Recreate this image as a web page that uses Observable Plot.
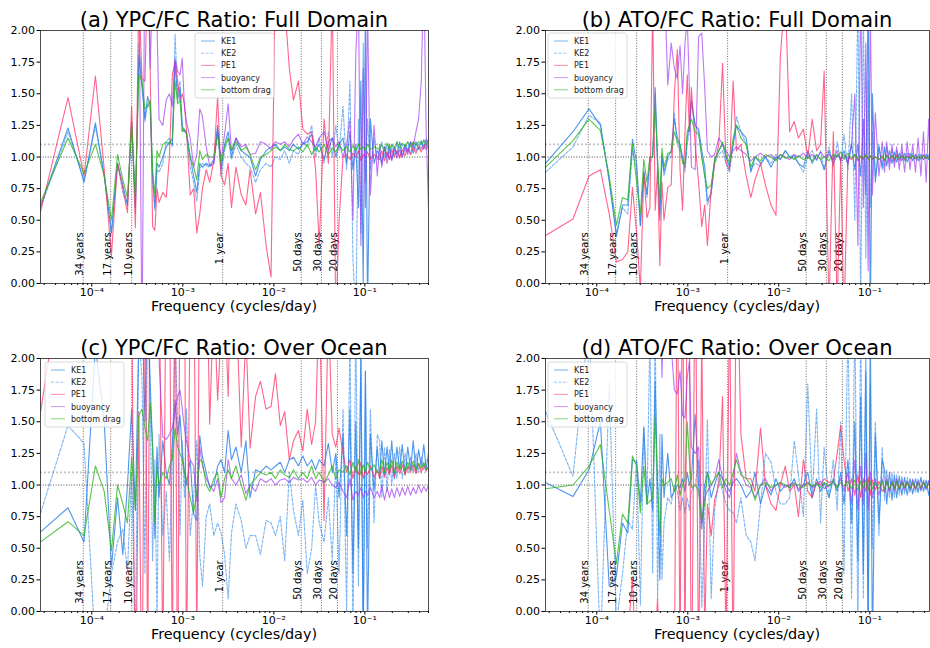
<!DOCTYPE html>
<html><head><meta charset="utf-8">
<script src="https://cdn.jsdelivr.net/npm/d3@7"></script>
<script src="https://cdn.jsdelivr.net/npm/@observablehq/plot@0.6"></script>
<style>
html,body{margin:0;padding:0;background:#fff;overflow:hidden}
#wrap{position:relative;width:930px;height:648px;overflow:hidden;font-family:"DejaVu Sans",sans-serif;background:#fff}
.panel{position:absolute}
#overlay{position:absolute;left:0;top:0}
</style></head><body><div id="wrap"></div>
<script>
// record length (days); frequency = K / RECORD_DAYS (cycles/day)
const RECORD_DAYS = 36500;
const K = [1,2,3,4,5,6,7,8,9,10,11,12,13,14,15,16,17,18,19,20,
22,24,26,28,30,32,34,36,38,40,
44,48,52,56,60,66,72,80,88,96,105,115,125,
140,160,180,200,230,260,300,340,380,
430,480,540,600,680,760,850,950,1050,1150,1300,1450,1600,1750,1900,
2100,2300,2500,2700,2900,3100,3300,3500,3700,3900,4200,4600,5000,
5300,5600,6000,6400,6800,7200,7700,8200,8800,9400,10100,10800,11600,12400,13300,14200,15200,16200,17200,18250];

const seriesNames = ["KE1","KE2","PE1","buoyancy","bottom drag"];

// Panel (a)
const a_KE1 = [0.61,1.23,0.80,1.27,0.85,0.40,0.95,0.78,0.62,1.28,0.60,1.80,1.55,1.30,1.48,1.40,0.85,0.60,0.95,0.92,
1.00,1.08,1.12,1.10,1.75,1.45,1.55,1.25,1.20,1.20,
1.00,0.85,0.72,0.95,0.92,0.95,0.93,0.98,1.25,0.90,1.10,1.20,1.00,
1.15,1.05,1.02,1.00,0.85,0.98,1.05,1.08,1.10,
1.05,1.08,1.05,1.10,1.06,1.10,1.12,1.18,1.05,1.10,0.98,1.12,1.15,1.00,1.10,
1.15,0.95,1.20,0.90,1.10,0.60,1.60,0.00,2.20,-0.20,1.30,0.95,1.05,
1.02,0.95,1.08,1.00,1.10,0.98,1.08,1.02,1.12,1.00,1.10,1.04,1.12,1.03,1.12,1.06,1.13,1.06,1.14,1.12];
const a_KE2 = [0.60,1.20,0.82,1.24,0.85,0.40,0.95,0.72,0.62,1.25,0.55,1.90,1.60,1.28,1.42,1.38,0.80,0.58,0.90,0.88,
0.95,1.12,1.15,1.08,1.97,1.50,1.60,1.20,1.22,1.18,
0.92,0.80,0.65,0.90,0.95,0.93,0.92,0.95,1.22,0.85,1.05,1.15,0.98,
1.10,1.00,0.95,0.92,0.80,0.90,0.95,0.92,1.00,
0.98,1.05,0.95,1.05,1.02,1.12,1.08,1.25,1.00,1.15,0.95,1.20,1.00,1.25,1.05,
1.40,0.90,1.60,0.20,-0.30,1.30,0.40,1.90,0.80,1.30,0.90,1.15,0.98,
1.05,1.12,1.00,1.10,0.98,1.10,1.02,1.12,1.00,1.10,1.04,1.12,1.02,1.12,1.05,1.10,1.06,1.14,1.08,1.12];
const a_PE1 = [0.57,1.47,0.85,1.64,0.90,0.22,0.95,0.75,0.56,1.40,0.44,2.30,1.62,1.60,2.50,1.68,0.45,0.42,0.75,0.64,
0.72,0.68,1.00,1.65,1.75,1.60,1.45,1.50,1.42,1.22,
0.70,0.75,0.40,0.55,0.75,0.90,0.80,0.97,1.48,0.85,0.78,0.95,0.60,
0.92,0.70,0.62,0.90,0.55,0.72,0.30,0.05,2.50,
2.30,2.20,1.70,1.45,1.60,1.22,1.18,1.20,0.90,0.30,1.30,0.95,2.30,-0.30,0.50,
1.00,1.02,0.98,1.03,1.00,1.05,0.97,1.02,1.00,1.04,0.98,1.02,1.00,
0.98,1.05,0.97,1.04,0.98,1.06,1.00,1.05,0.99,1.06,1.01,1.07,1.02,1.08,1.03,1.08,1.04,1.10,1.06,1.10];
const a_BUO = [3.5,4.0,3.0,5.0,4.0,3.0,4.5,3.2,3.0,3.8,2.8,2.6,-0.5,2.8,3.0,1.70,2.40,2.20,2.05,1.30,
1.25,1.45,1.50,1.40,1.78,1.68,1.65,1.78,1.40,1.28,
1.15,0.92,1.02,1.38,1.32,1.08,0.93,0.95,1.20,0.98,1.18,1.42,1.05,
1.15,1.08,1.10,1.02,1.03,1.12,1.10,1.06,1.12,
1.10,1.12,1.08,1.14,1.18,1.10,1.16,1.12,1.08,1.15,1.20,1.05,1.15,1.08,1.12,
1.00,1.10,1.30,0.50,1.80,2.30,0.30,1.70,0.60,2.20,0.70,1.25,0.85,
1.10,0.92,1.08,0.95,1.06,0.97,1.07,0.99,1.06,1.00,1.08,1.02,1.12,1.08,1.20,1.30,1.60,2.50,1.20,0.60];
const a_BD = [0.64,1.15,0.87,1.10,0.85,0.50,1.02,0.82,0.68,1.26,0.68,1.65,1.60,1.38,1.40,1.45,0.90,0.70,1.05,1.00,
1.10,1.12,1.10,1.15,1.60,1.42,1.45,1.20,1.22,1.18,
1.00,0.92,0.82,1.05,0.98,1.02,1.00,1.00,1.18,0.95,1.08,1.15,1.05,
1.12,1.05,1.08,1.02,0.90,1.00,1.02,1.05,1.08,
1.05,1.10,1.06,1.05,1.08,1.04,1.10,1.02,1.08,1.04,1.10,1.02,1.07,1.04,1.10,
1.05,1.08,1.04,1.09,1.05,1.10,1.06,1.08,1.05,1.10,1.06,1.08,1.07,
1.06,1.10,1.05,1.11,1.06,1.10,1.07,1.12,1.07,1.11,1.08,1.12,1.08,1.12,1.09,1.12,1.10,1.13,1.10,1.13];

// Panel (b)
const b_KE1 = [0.95,1.20,1.38,1.25,0.82,0.37,0.62,0.62,1.14,0.95,0.46,0.88,0.70,1.00,1.00,1.55,0.95,0.50,1.02,0.88,
1.00,1.05,1.30,1.15,1.10,1.00,0.92,1.15,1.25,1.45,
1.25,1.22,1.05,0.92,0.65,0.72,0.98,1.05,1.10,1.00,0.92,1.10,1.25,
1.20,1.15,0.88,1.00,0.95,1.00,0.92,1.00,0.98,
1.05,1.00,1.00,0.95,0.92,1.05,0.95,1.02,0.98,0.90,1.05,0.95,1.02,0.98,1.05,
0.95,1.10,0.90,1.10,0.85,1.30,0.70,2.30,-0.30,1.50,0.80,1.08,0.92,
1.08,0.93,1.05,0.95,1.04,0.96,1.03,0.97,1.03,0.96,1.03,0.97,1.02,0.97,1.02,0.98,1.02,0.98,1.01,0.99];
const b_KE2 = [0.88,1.08,1.33,1.27,0.80,0.40,0.60,0.55,1.05,0.90,0.45,0.90,0.68,0.95,1.00,1.50,0.92,0.55,1.00,0.85,
0.98,1.00,1.35,1.10,1.05,0.98,0.88,1.10,1.20,1.42,
1.25,1.20,1.00,0.85,0.62,0.70,0.95,1.02,1.05,0.95,0.88,1.10,1.32,
1.20,1.10,0.90,0.95,0.93,1.00,0.95,1.02,0.98,
1.05,1.00,1.02,0.95,0.88,1.00,1.05,0.97,1.05,0.90,1.08,0.92,1.12,0.95,1.18,
0.90,1.50,0.50,2.30,-0.20,2.20,0.20,1.60,0.60,1.20,0.85,1.10,0.90,
0.94,1.08,0.95,1.06,0.96,1.05,0.97,1.04,0.97,1.03,0.98,1.03,0.98,1.02,0.98,1.02,0.99,1.02,0.99,1.00];
const b_PE1 = [0.38,0.51,0.85,0.90,0.55,0.17,0.19,0.25,0.76,0.40,-0.05,0.88,0.52,0.60,2.20,0.58,0.90,0.14,0.80,0.50,
0.76,0.78,1.50,1.85,0.90,0.58,1.20,1.65,1.20,1.55,
1.10,0.80,0.45,0.62,0.30,0.75,0.95,1.10,1.74,0.95,0.90,1.60,1.05,
1.10,0.85,0.68,0.82,0.95,0.78,0.62,0.54,1.80,
2.30,1.20,1.28,1.15,1.22,1.00,1.30,1.05,1.10,1.68,-0.20,1.20,-0.20,1.00,-0.30,
1.00,0.98,1.02,0.97,1.00,0.98,1.02,0.99,1.01,0.98,1.00,0.98,1.00,
0.97,1.02,0.98,1.01,0.97,1.02,0.98,1.01,0.98,1.01,0.99,1.01,0.99,1.00,0.99,1.01,0.99,1.00,0.99,1.00];
const b_BUO = [3.0,3.5,4.0,3.5,3.0,2.8,3.2,3.0,2.6,2.8,3.0,2.5,3.0,2.6,2.4,2.8,2.5,2.3,2.6,2.5,
1.57,1.90,1.70,1.62,1.88,1.50,1.90,2.10,1.55,0.92,
0.90,1.95,1.98,1.55,1.05,1.00,1.02,1.15,1.10,1.05,1.00,1.05,1.08,
1.05,1.02,0.97,1.00,1.03,1.00,1.02,0.98,1.02,
1.00,0.98,1.02,1.00,1.03,0.99,1.02,0.98,1.04,1.00,1.02,0.98,1.05,0.97,1.02,
0.95,1.10,1.50,0.30,2.30,0.60,1.90,0.10,2.20,0.70,1.35,0.85,1.12,
0.88,1.12,0.90,1.10,0.92,1.08,0.90,1.10,0.88,1.12,0.90,1.10,0.88,1.15,0.85,1.20,0.80,1.30,0.75,1.65];
const b_BD = [0.92,1.13,1.30,1.21,0.85,0.46,0.68,0.66,1.10,0.80,0.55,0.98,0.80,1.00,1.00,1.40,0.98,0.65,1.07,0.92,
1.03,1.04,1.20,1.12,1.10,0.95,0.95,1.20,1.25,1.30,
1.20,1.18,1.00,0.85,0.75,0.78,0.98,1.05,1.12,1.02,0.95,1.15,1.25,
1.15,1.10,0.92,1.00,0.97,1.02,1.00,0.97,1.02,
0.99,1.00,0.98,1.01,0.98,1.00,0.97,1.02,0.98,1.00,0.97,1.02,1.00,1.04,0.98,
1.03,0.99,1.02,0.98,1.01,0.99,1.02,0.98,1.01,0.99,1.00,0.98,1.01,
0.98,1.01,0.99,1.01,0.99,1.00,0.99,1.01,0.99,1.00,0.99,1.01,0.99,1.00,0.99,1.01,0.99,1.00,0.99,1.00];

// Panel (c)
const c_KE1 = [0.63,0.82,0.55,2.10,1.50,0.35,0.90,0.45,1.00,1.60,0.80,2.20,2.40,1.50,2.50,1.80,1.30,0.58,1.30,0.90,
1.35,1.10,1.00,1.33,1.67,1.40,1.55,1.25,1.10,1.00,
1.20,0.77,0.72,1.39,1.22,1.10,0.98,1.00,1.15,1.20,1.10,1.43,1.20,
1.30,1.10,1.35,0.90,1.12,1.10,1.15,1.12,1.15,
1.18,1.10,1.20,1.22,1.15,1.23,1.15,1.20,1.12,1.20,1.15,1.33,1.10,1.25,0.90,
1.40,0.60,1.60,0.30,1.50,0.50,2.00,-0.30,1.90,-0.20,1.40,0.95,1.30,
1.05,1.35,1.08,1.30,1.10,1.35,1.05,1.30,1.12,1.32,1.08,1.30,1.12,1.35,1.10,1.28,1.15,1.32,1.12,1.25];
const c_KE2 = [0.78,1.47,1.33,-0.30,-0.20,0.30,0.55,0.65,0.32,1.10,-0.20,2.20,1.85,0.30,2.40,1.65,0.40,1.20,-0.10,1.40,
0.60,0.95,0.40,1.20,2.20,1.50,0.60,1.35,0.90,1.60,
0.60,0.90,1.35,0.45,0.20,0.75,0.85,0.60,0.70,0.62,0.45,0.10,0.62,
0.85,0.72,0.50,0.60,0.60,0.45,0.72,0.70,0.60,
0.75,0.40,1.10,0.80,0.60,0.88,0.30,0.50,1.00,0.70,0.55,0.90,0.40,1.20,0.30,
1.60,0.00,2.20,-0.20,2.30,0.20,2.10,-0.20,1.90,0.50,1.60,0.70,1.40,
1.35,0.90,1.30,0.95,1.28,1.00,1.25,1.05,1.30,1.05,1.25,1.10,1.22,1.10,1.25,1.10,1.22,1.12,1.20,1.20];
const c_PE1 = [1.58,3.0,3.5,4.0,3.0,2.8,3.2,3.0,3.5,2.6,-1.0,1.58,-1.0,3.0,-0.5,3.0,2.5,3.0,2.6,3.0,
-0.5,3.0,2.8,-0.5,3.0,-1.0,3.0,2.5,3.0,-0.5,
2.5,3.0,-0.3,3.0,2.2,3.0,1.48,2.5,1.67,2.2,2.5,1.70,3.0,
2.5,1.30,2.20,1.29,1.70,1.82,1.60,1.62,1.88,
1.47,1.58,1.20,1.35,1.43,1.27,1.60,1.32,1.50,2.50,0.72,2.40,1.40,1.30,1.45,
1.25,1.10,1.20,1.05,1.15,1.08,1.18,1.05,1.12,1.08,1.15,1.06,1.12,
1.05,1.15,1.06,1.14,1.08,1.16,1.06,1.15,1.09,1.16,1.08,1.15,1.10,1.16,1.09,1.17,1.10,1.16,1.11,1.15];
const c_BUO = [3.0,3.5,4.0,3.2,3.0,2.8,3.0,3.3,2.9,3.1,2.8,3.0,2.7,3.0,2.6,2.8,2.5,2.7,2.4,2.0,
1.38,1.36,1.40,1.45,1.58,1.70,1.75,1.60,1.45,1.35,
1.20,1.15,0.87,1.30,1.15,1.05,1.00,0.95,1.05,0.86,0.90,1.20,1.05,
1.00,1.08,0.93,1.00,0.95,1.05,1.02,1.05,1.00,
1.04,1.05,1.02,1.06,1.04,1.05,1.02,1.06,1.00,1.04,1.02,1.05,1.00,0.98,1.02,
0.95,0.90,1.05,0.88,0.95,0.92,0.98,0.90,0.95,0.92,0.98,0.90,0.95,
0.90,1.00,0.88,0.98,0.90,0.97,0.90,0.98,0.91,0.98,0.92,0.99,0.92,0.98,0.93,1.00,0.94,0.99,0.95,1.00];
const c_BD = [0.55,0.71,0.60,1.15,0.95,0.48,1.00,0.85,0.70,1.22,0.80,1.55,1.60,1.45,1.35,1.65,1.30,0.70,1.15,1.00,
1.10,1.05,1.15,1.20,1.45,1.30,1.25,1.20,1.10,1.05,
0.90,0.78,0.95,1.20,1.18,1.00,0.95,1.05,1.10,0.90,1.05,1.12,1.05,
1.15,1.00,0.88,1.00,1.05,1.10,1.08,1.10,1.05,
1.12,1.08,1.06,1.12,1.05,1.10,1.05,1.15,1.05,1.10,1.02,1.08,1.15,1.05,1.12,
1.10,1.15,1.08,1.18,1.10,1.20,1.08,1.16,1.10,1.18,1.12,1.16,1.10,
1.10,1.20,1.10,1.18,1.11,1.20,1.10,1.18,1.12,1.19,1.11,1.18,1.12,1.19,1.12,1.17,1.13,1.18,1.12,1.14];

// Panel (d)
const d_KE1 = [1.02,0.91,1.12,1.50,0.20,0.28,0.70,0.62,1.20,1.18,0.86,1.46,0.85,1.05,0.80,1.82,1.00,0.25,1.40,0.90,
1.25,0.90,0.95,1.00,0.98,1.05,0.95,1.10,1.00,1.05,
1.56,1.00,0.65,1.00,1.10,0.90,1.00,1.10,1.05,1.00,0.95,1.02,1.05,
1.00,0.90,0.95,1.10,0.85,1.00,0.92,1.05,0.95,
1.00,0.98,1.05,0.95,1.00,1.10,0.90,1.05,0.95,1.02,0.90,1.05,0.95,1.10,0.85,
1.20,0.70,1.50,0.40,1.70,0.30,1.90,-0.20,2.30,-0.30,1.40,0.70,1.20,
1.12,0.85,1.10,0.88,1.08,0.90,1.07,0.92,1.06,0.92,1.05,0.93,1.05,0.94,1.06,0.95,1.04,0.92,1.03,1.00];
const d_KE2 = [1.58,1.07,2.30,-0.30,1.80,-0.10,0.30,0.72,0.65,1.20,0.05,1.45,0.85,2.20,0.30,2.30,0.10,1.40,0.25,0.70,
0.90,0.85,1.00,0.95,0.80,0.90,0.78,0.90,0.80,0.95,
1.00,1.20,0.03,0.70,1.52,0.10,0.80,1.05,0.95,0.85,0.80,0.78,0.70,
0.90,0.60,0.55,0.40,0.85,1.25,1.18,0.95,0.85,
0.85,0.90,1.35,1.08,0.75,1.80,0.90,1.60,0.70,1.30,0.90,1.20,0.80,1.50,0.30,
2.30,0.10,2.40,-0.20,2.30,0.10,2.20,0.00,1.80,0.50,1.50,0.60,1.30,
0.88,1.12,0.90,1.10,0.90,1.08,0.92,1.07,0.93,1.06,0.94,1.05,0.94,1.05,0.95,1.04,0.96,1.04,0.97,1.00];
const d_PE1 = [-1.0,-1.0,-1.5,-1.0,-0.8,-1.0,-0.5,-0.2,0.26,-0.5,-1.0,-1.0,-0.8,-1.0,-0.5,-0.2,0.10,-0.5,-1.0,-1.0,
-1.5,-1.0,-0.5,3.0,-0.5,3.0,-0.5,3.0,2.5,-1.0,
3.0,-0.5,2.2,-0.2,0.85,0.60,0.88,1.00,1.70,-0.30,2.50,-0.50,3.0,
1.40,1.05,1.05,0.95,1.45,1.00,0.85,0.80,1.00,
1.15,0.95,1.00,0.75,1.20,0.95,0.90,1.02,1.00,1.05,1.02,1.03,1.25,1.47,1.20,
0.95,1.05,0.92,1.08,0.90,1.05,0.95,1.06,0.92,1.04,0.96,1.03,0.95,
0.97,1.03,0.96,1.02,0.98,1.03,0.97,1.02,0.98,1.02,0.98,1.01,0.97,1.02,0.98,1.01,0.98,1.01,0.99,0.99];
const d_BUO = [3.0,3.5,4.0,3.2,3.0,2.8,3.0,3.3,2.9,3.1,2.8,3.0,2.7,3.0,2.6,2.8,2.5,2.7,1.85,2.5,
2.20,2.10,1.75,1.72,1.90,1.55,1.53,1.85,1.98,1.30,
1.25,1.30,0.70,0.90,0.95,1.00,1.05,1.20,1.05,0.95,0.90,1.05,1.25,
1.10,1.00,0.98,0.90,1.00,1.05,0.95,1.00,1.02,
0.98,1.00,1.02,0.97,1.00,1.02,0.98,1.00,1.03,0.97,1.00,1.02,0.98,1.05,0.95,
1.10,0.85,1.20,0.80,1.15,0.85,1.25,0.80,1.10,0.90,1.05,0.92,1.05,
0.94,1.05,0.95,1.04,0.95,1.05,0.96,1.04,0.96,1.03,0.96,1.04,0.97,1.03,0.96,1.03,0.97,1.03,0.97,1.00];
const d_BD = [0.97,1.00,1.15,1.32,0.80,0.38,0.77,0.70,1.23,1.15,0.78,1.15,0.85,0.87,0.90,1.55,1.00,0.60,1.05,1.00,
1.02,1.05,0.95,1.08,0.92,1.00,1.05,1.50,1.20,0.98,
1.00,0.95,0.72,0.85,1.10,1.00,1.05,1.10,0.98,1.05,1.00,1.10,1.20,
1.08,1.05,1.00,0.88,1.00,1.02,0.98,1.00,1.02,
1.00,0.98,1.01,1.00,0.98,1.02,0.99,1.01,0.98,1.02,0.99,1.03,0.98,1.02,0.99,
1.03,0.97,1.04,0.96,1.03,0.97,1.04,0.96,1.03,0.97,1.02,0.97,1.03,
0.96,1.03,0.97,1.02,0.97,1.03,0.97,1.02,0.98,1.02,0.97,1.02,0.98,1.01,0.98,1.02,0.98,1.01,0.98,1.00];

// reference periods (days) for the vertical dotted lines
const periodLabels = ["34 years","17 years","10 years","1 year","50 days","30 days","20 days"];
const periodDays = [12410, 6205, 3650, 365, 50, 30, 20];

const yTicks = [0,0.25,0.5,0.75,1.0,1.25,1.5,1.75,2.0];
const xMajorTicks = [1e-4,1e-3,1e-2,1e-1];
const titles = ["(a) YPC/FC Ratio: Full Domain","(b) ATO/FC Ratio: Full Domain","(c) YPC/FC Ratio: Over Ocean","(d) ATO/FC Ratio: Over Ocean"];
const xLabel = "Frequency (cycles/day)";

const styles = {
  "KE1": {stroke:"#1f78e6", op:0.78, dash:null},
  "KE2": {stroke:"#2a86ec", op:0.62, dash:"3,1.6"},
  "PE1": {stroke:"#ff2a5f", op:0.72, dash:null},
  "buoyancy": {stroke:"#9b30f2", op:0.66, dash:null},
  "bottom drag": {stroke:"#2ab51c", op:0.78, dash:null}
};

const panels = [
  {left:0, top:0, width:465, mr:37, xmax:0.5, legend:[195,33], data:[a_KE1,a_KE2,a_PE1,a_BUO,a_BD]},
  {left:505, top:0, width:425, mr:1, xmax:0.453, legend:[548,33], data:[b_KE1,b_KE2,b_PE1,b_BUO,b_BD]},
  {left:0, top:328, width:465, mr:37, xmax:0.5, legend:[45,362], data:[c_KE1,c_KE2,c_PE1,c_BUO,c_BD]},
  {left:505, top:328, width:425, mr:1, xmax:0.453, legend:[548,362], data:[d_KE1,d_KE2,d_PE1,d_BUO,d_BD]}
];

const supMap = {"-":"\u207B","0":"\u2070","1":"\u00B9","2":"\u00B2","3":"\u00B3","4":"\u2074","5":"\u2075","6":"\u2076","7":"\u2077","8":"\u2078","9":"\u2079"};
const fmtPow = d => "10" + String(Math.round(Math.log10(d))).split("").map(c => supMap[c]).join("");

const periodRows = periodLabels.map((l,i) => ({label:l, f:1/periodDays[i]}));
const wrap = document.getElementById("wrap");
const xmin = 1/36600;

panels.forEach((p, pi) => {
  const minor = [];
  for (let e = -5; e <= -1; e++) for (let m = 2; m <= 9; m++) {
    const t = m * Math.pow(10, e);
    if (t >= xmin && t <= p.xmax) minor.push(t);
  }
  const lineMarks = seriesNames.map((name, si) => {
    const vals = p.data[si];
    const rows = K.map((k, i) => ({f: k / RECORD_DAYS, v: vals[i]}));
    const s = styles[name];
    return Plot.line(rows, {x:"f", y:"v", stroke:s.stroke, strokeOpacity:s.op, strokeWidth:1.1,
      strokeDasharray: s.dash || undefined, clip:true, strokeLinejoin:"round"});
  });
  const chart = Plot.plot({
    width: p.width, height: 324,
    marginLeft: 40, marginRight: p.mr, marginTop: 30, marginBottom: 41,
    x: {type:"log", domain:[xmin, p.xmax]},
    y: {domain:[0, 2]},
    style: {fontFamily:"DejaVu Sans, sans-serif", fontSize:"11px", background:"transparent", color:"#000"},
    marks: [
      Plot.ruleY([1.1], {stroke:"#c4c4c4", strokeWidth:1.8, strokeDasharray:"2,2"}),
      Plot.ruleY([1.0], {stroke:"#222", strokeWidth:0.8, strokeDasharray:"1,1.6"}),
      Plot.ruleX(periodRows, {x:"f", stroke:"#444", strokeWidth:0.8, strokeDasharray:"1,1.6"}),
      Plot.text(periodRows, {x:"f", y:() => 0.405, text:"label", rotate:-90, textAnchor:"end", lineAnchor:"bottom",
        fontSize:10, fill:"#000"}),
      ...lineMarks,
      Plot.axisX(minor, {tickSize:2, tickFormat:() => "", label:null, stroke:"#000"}),
      Plot.axisX(xMajorTicks, {tickSize:3.5, tickPadding:1.5, tickFormat:fmtPow, label:null, stroke:"#000", fontSize:11}),
      Plot.axisY(yTicks, {tickSize:3.5, tickPadding:2, tickFormat:d => d.toFixed(2), label:null, stroke:"#000", fontSize:11}),
      Plot.frame({stroke:"#222", strokeWidth:0.8})
    ]
  });
  chart.classList.add("panel");
  chart.style.left = p.left + "px";
  chart.style.top = p.top + "px";
  wrap.appendChild(chart);
});

// overlay: titles, axis labels, legends
const svg = d3.select(wrap).append("svg").attr("id","overlay").attr("width",930).attr("height",648)
  .style("font-family","DejaVu Sans, sans-serif");
panels.forEach((p, pi) => {
  const x0 = p.left + 40, x1 = p.left + p.width - p.mr;
  const cx = (x0 + x1) / 2;
  svg.append("text").attr("x", cx).attr("y", p.top + 27).attr("text-anchor","middle")
    .attr("font-size", 21).attr("fill","#000").text(titles[pi]);
  svg.append("text").attr("x", cx).attr("y", p.top + 311).attr("text-anchor","middle")
    .attr("font-size", 14.4).attr("fill","#000").text(xLabel);
  const [lx, ly] = p.legend;
  const g = svg.append("g");
  g.append("rect").attr("x", lx).attr("y", ly).attr("width", 79).attr("height", 65).attr("rx", 2.5)
    .attr("fill","#fff").attr("fill-opacity",0.8).attr("stroke","#d0d0d0").attr("stroke-width",0.8);
  seriesNames.forEach((name, i) => {
    const yy = ly + 8 + i * 12.2;
    const s = styles[name];
    g.append("line").attr("x1", lx + 6).attr("x2", lx + 20).attr("y1", yy).attr("y2", yy)
      .attr("stroke", s.stroke).attr("stroke-opacity", s.op * 0.75).attr("stroke-width", 1)
      .attr("stroke-dasharray", s.dash || null);
    g.append("text").attr("x", lx + 26).attr("y", yy + 3).attr("font-size", 8).attr("fill","#222").text(name);
  });
});
</script></body></html>
